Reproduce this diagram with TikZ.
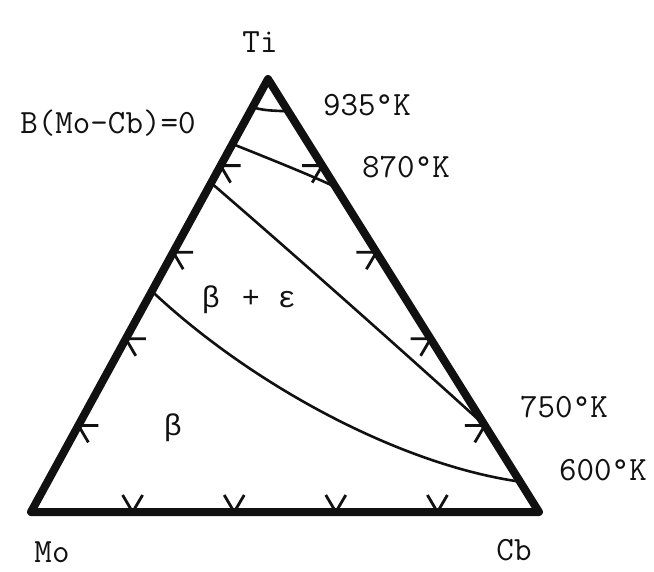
\documentclass[tikz,border=0pt]{standalone}
\usepackage{fontspec}
\newfontfamily\greekfont{Liberation Mono}
\usepackage{tikz}
\usetikzlibrary{calc}
\definecolor{inkblack}{HTML}{111111}

\tikzset{
  edgeline/.style={draw=inkblack, line width=8pt, line join=round, line cap=round},
  isotherm/.style={draw=inkblack, line width=2.6pt},
  tiemark/.style={draw=inkblack, line width=2.8pt, line join=miter},
  lbl/.style={anchor=base, inner sep=0pt, text=inkblack,
              font=\fontsize{34}{40}\ttfamily},
  greeklbl/.style={lbl, font=\fontsize{30}{36}\greekfont}
}

\begin{document}
\begin{tikzpicture}[x=1pt, y=-1pt]
    \useasboundingbox (0,0) rectangle (654,571);

    % corners of the composition triangle
    \coordinate (Ti) at (268,79);
    \coordinate (Mo) at (31,512);
    \coordinate (Cb) at (539,512);

    \draw[edgeline] (Ti) -- (Mo) -- (Cb) -- cycle;

    % tie-line directions along the edges
    \foreach \t in {0.2,0.4,0.6,0.8}{
      \draw[tiemark] ($(Ti)!\t!(Mo)$) +(20,0) -- +(0,0) -- +(10,17);
      \draw[tiemark] ($(Ti)!\t!(Cb)$) +(-20,0) -- +(0,0) -- +(-10,17);
      \draw[tiemark] ($(Mo)!\t!(Cb)$) +(-10,-17) -- +(0,0) -- +(10,-17);
    }

    % ends of the isotherms
    \coordinate (k935a) at ($(Ti)!0.065!(Mo)$);
    \coordinate (k935b) at ($(Ti)!0.075!(Cb)$);
    \coordinate (k870a) at ($(Ti)!0.15!(Mo)$);
    \coordinate (k870b) at ($(Ti)!0.25!(Cb)$);
    \coordinate (k750a) at ($(Ti)!0.24!(Mo)$);
    \coordinate (k750b) at ($(Ti)!0.8!(Cb)$);
    \coordinate (k600a) at ($(Ti)!0.49!(Mo)$);
    \coordinate (k600b) at ($(Ti)!0.93!(Cb)$);

    \draw[isotherm] (k935a) .. controls +(12,4) and +(-12,-1) .. (k935b);
    \draw[isotherm] (k870a) .. controls +(35,14) and +(-20,-10) .. (k870b);
    \draw[isotherm] (k750a) .. controls +(87,75) and +(-75,-68) .. (k750b);
    \draw[isotherm] (k600a) .. controls +(100,94) and +(-120,-17) .. (k600b);

    % labels
    \node[lbl] (tiLabel) at (260,52) {Ti};
    \node[lbl] (moLabel) at (52,562) {Mo};
    \node[lbl] (cbLabel) at (514,560) {Cb};
    \node[lbl] (t935) at (367,115) {935°K};
    \node[lbl] (t870) at (406,177) {870°K};
    \node[lbl] (t750) at (564,417) {750°K};
    \node[lbl] (t600) at (603,480) {600°K};
    \node[lbl] (bzero) at (108,133) {B(Mo-Cb)=0};
    \node[greeklbl] (twophase) at (249,307) {β\hspace{22pt}+\hspace{18pt}ε};
    \node[greeklbl] (onephase) at (173,435) {β};
\end{tikzpicture}
\end{document}
